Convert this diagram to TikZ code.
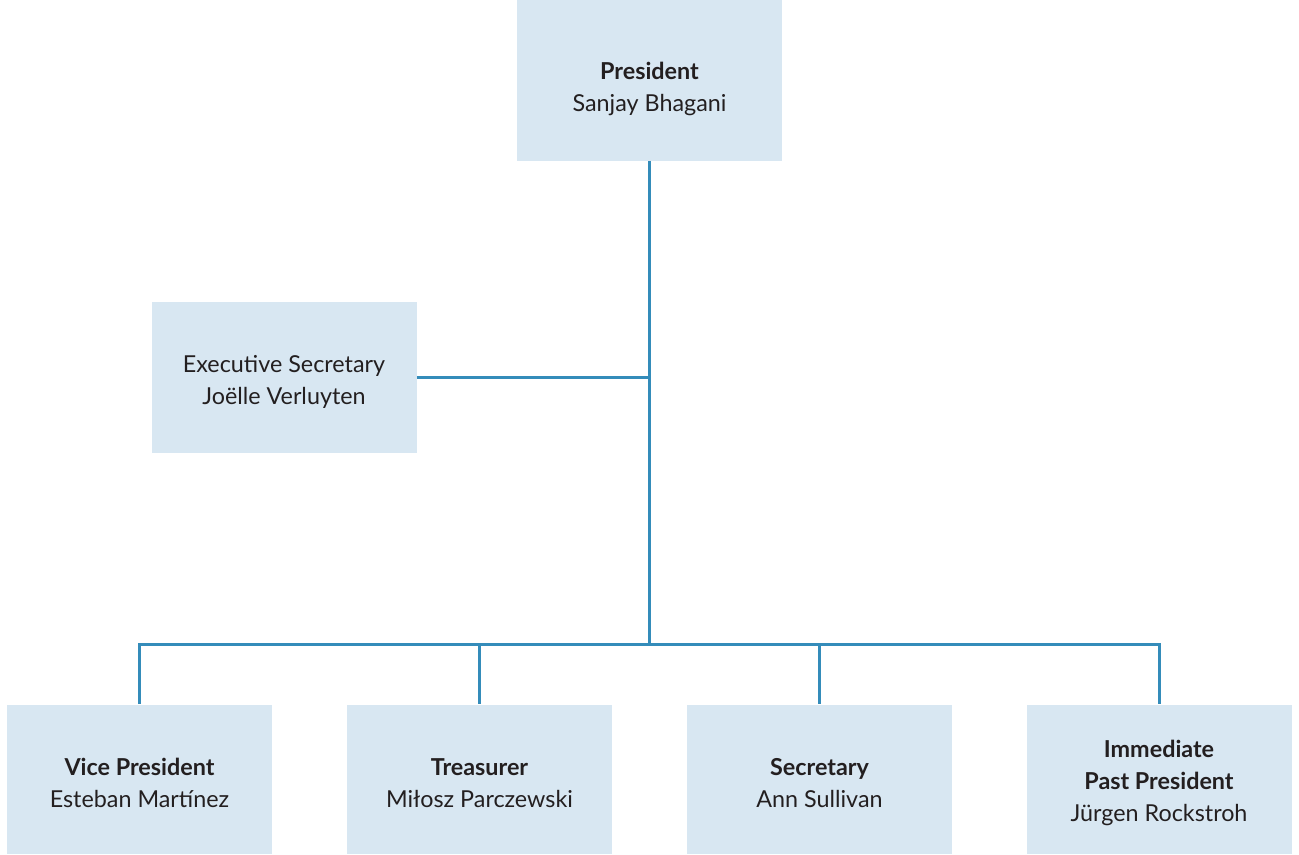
\documentclass[tikz,border=0pt]{standalone}
\usepackage{fontspec}
\setmainfont{Lato}
\usepackage{tikz}
\usepackage{xcolor}

\definecolor{boxblue}{RGB}{216,231,242}
\definecolor{lineblue}{RGB}{52,140,186}
\definecolor{textdark}{RGB}{35,31,32}

\tikzset{
  officebox/.style={fill=boxblue, draw=none, text=textdark, align=center,
    minimum width=198.75pt, inner sep=0pt, text depth=0pt, text height=42.5pt,
    font=\fontsize{17.5}{24}\selectfont},
  orgline/.style={draw=lineblue, line width=2.25pt}
}

\begin{document}
\begin{tikzpicture}[x=0.75pt,y=0.75pt,yscale=-1,xscale=1]
  \useasboundingbox (0,0) rectangle (1299,854);

  %Shape: top box
  \node [officebox, minimum height=120.75pt, text height=47pt] (pres) at (649.5,80) {\textbf{President}\\Sanjay Bhagani};
  %Shape: side box
  \node [officebox, minimum height=113.25pt, text height=40pt] (exec) at (284,377.5) {Executive Secretary\\Joëlle Verluyten};
  %Shape: bottom row
  \node [officebox, minimum height=111.75pt] (vp) at (139.5,779) {\textbf{Vice President}\\Esteban Martínez};
  \node [officebox, minimum height=111.75pt] (tre) at (479.5,779) {\textbf{Treasurer}\\Miłosz Parczewski};
  \node [officebox, minimum height=111.75pt] (sec) at (819.5,779) {\textbf{Secretary}\\Ann Sullivan};
  \node [officebox, minimum height=111.75pt, text height=63pt] (ipp) at (1159,779) {\textbf{Immediate}\\\textbf{Past President}\\Jürgen Rockstroh};

  %Straight Lines
  \coordinate (bar) at (649.5,644);
  \draw [orgline] (pres.south) -- (bar);
  \draw [orgline] (exec.east) -- (exec.east -| pres.south);
  \draw [orgline, line join=miter] (vp.north) -- (vp.north |- bar) -- (ipp.north |- bar) -- (ipp.north);
  \foreach \n in {tre,sec}
    \draw [orgline] (\n.north |- bar) -- (\n.north);

\end{tikzpicture}
\end{document}
